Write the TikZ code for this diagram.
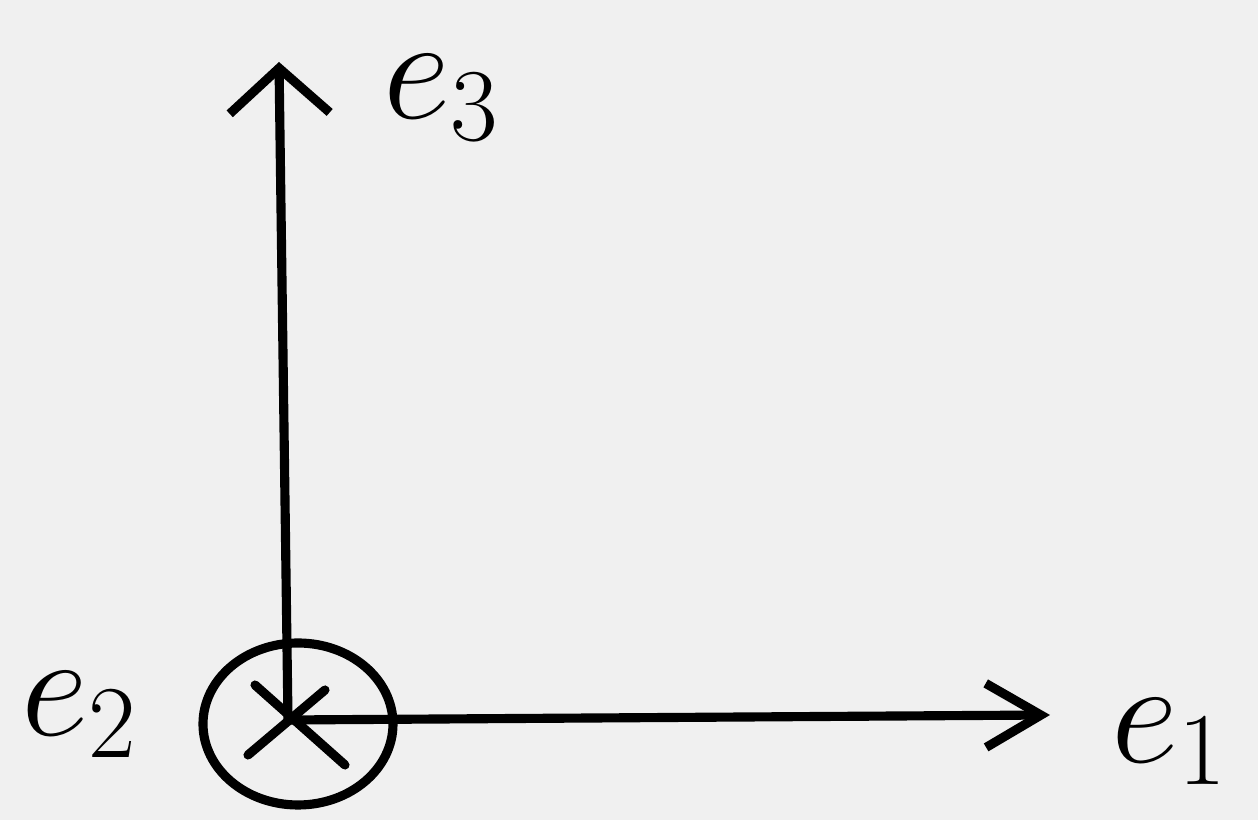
\RequirePackage{fix-cm}
\documentclass[tikz,border=0pt]{standalone}
\usetikzlibrary{arrows.meta,shapes.geometric}
\definecolor{paper}{HTML}{F0F0F0}
\begin{document}
\begin{tikzpicture}[line width=2.6pt, line cap=round, line join=round,
  every node/.style={font=\fontsize{42}{46}\selectfont,inner sep=1pt},
  axis/.style={-{Straight Barb[length=4.5mm,width=10mm,line width=2.6pt]}}]
\fill[paper] (0,0) rectangle (12.58,8.2);
\useasboundingbox (0,0) rectangle (12.58,8.2);
\coordinate (O) at (2.88,1.0);
\coordinate (top) at (2.79,7.58);
\coordinate (right) at (10.50,1.05);
\node[draw,ellipse,minimum width=1.9cm,minimum height=1.62cm,inner sep=0pt] (into) at (2.98,0.96) {};
\draw[axis] (O) -- (top);
\draw[axis,-{Straight Barb[length=5.5mm,width=6.4mm,line width=2.6pt]}] (O) -- (right);
% cross for the axis into the page
\draw (2.55,1.35) -- (3.45,0.55);
\draw (2.48,0.65) -- (3.25,1.30);
\node (e3) at (4.42,7.22) {$e_3$};
\node (e2) at (0.80,1.05) {$e_2$};
\node (e1) at (11.70,0.78) {$e_1$};
\end{tikzpicture}
\end{document}
